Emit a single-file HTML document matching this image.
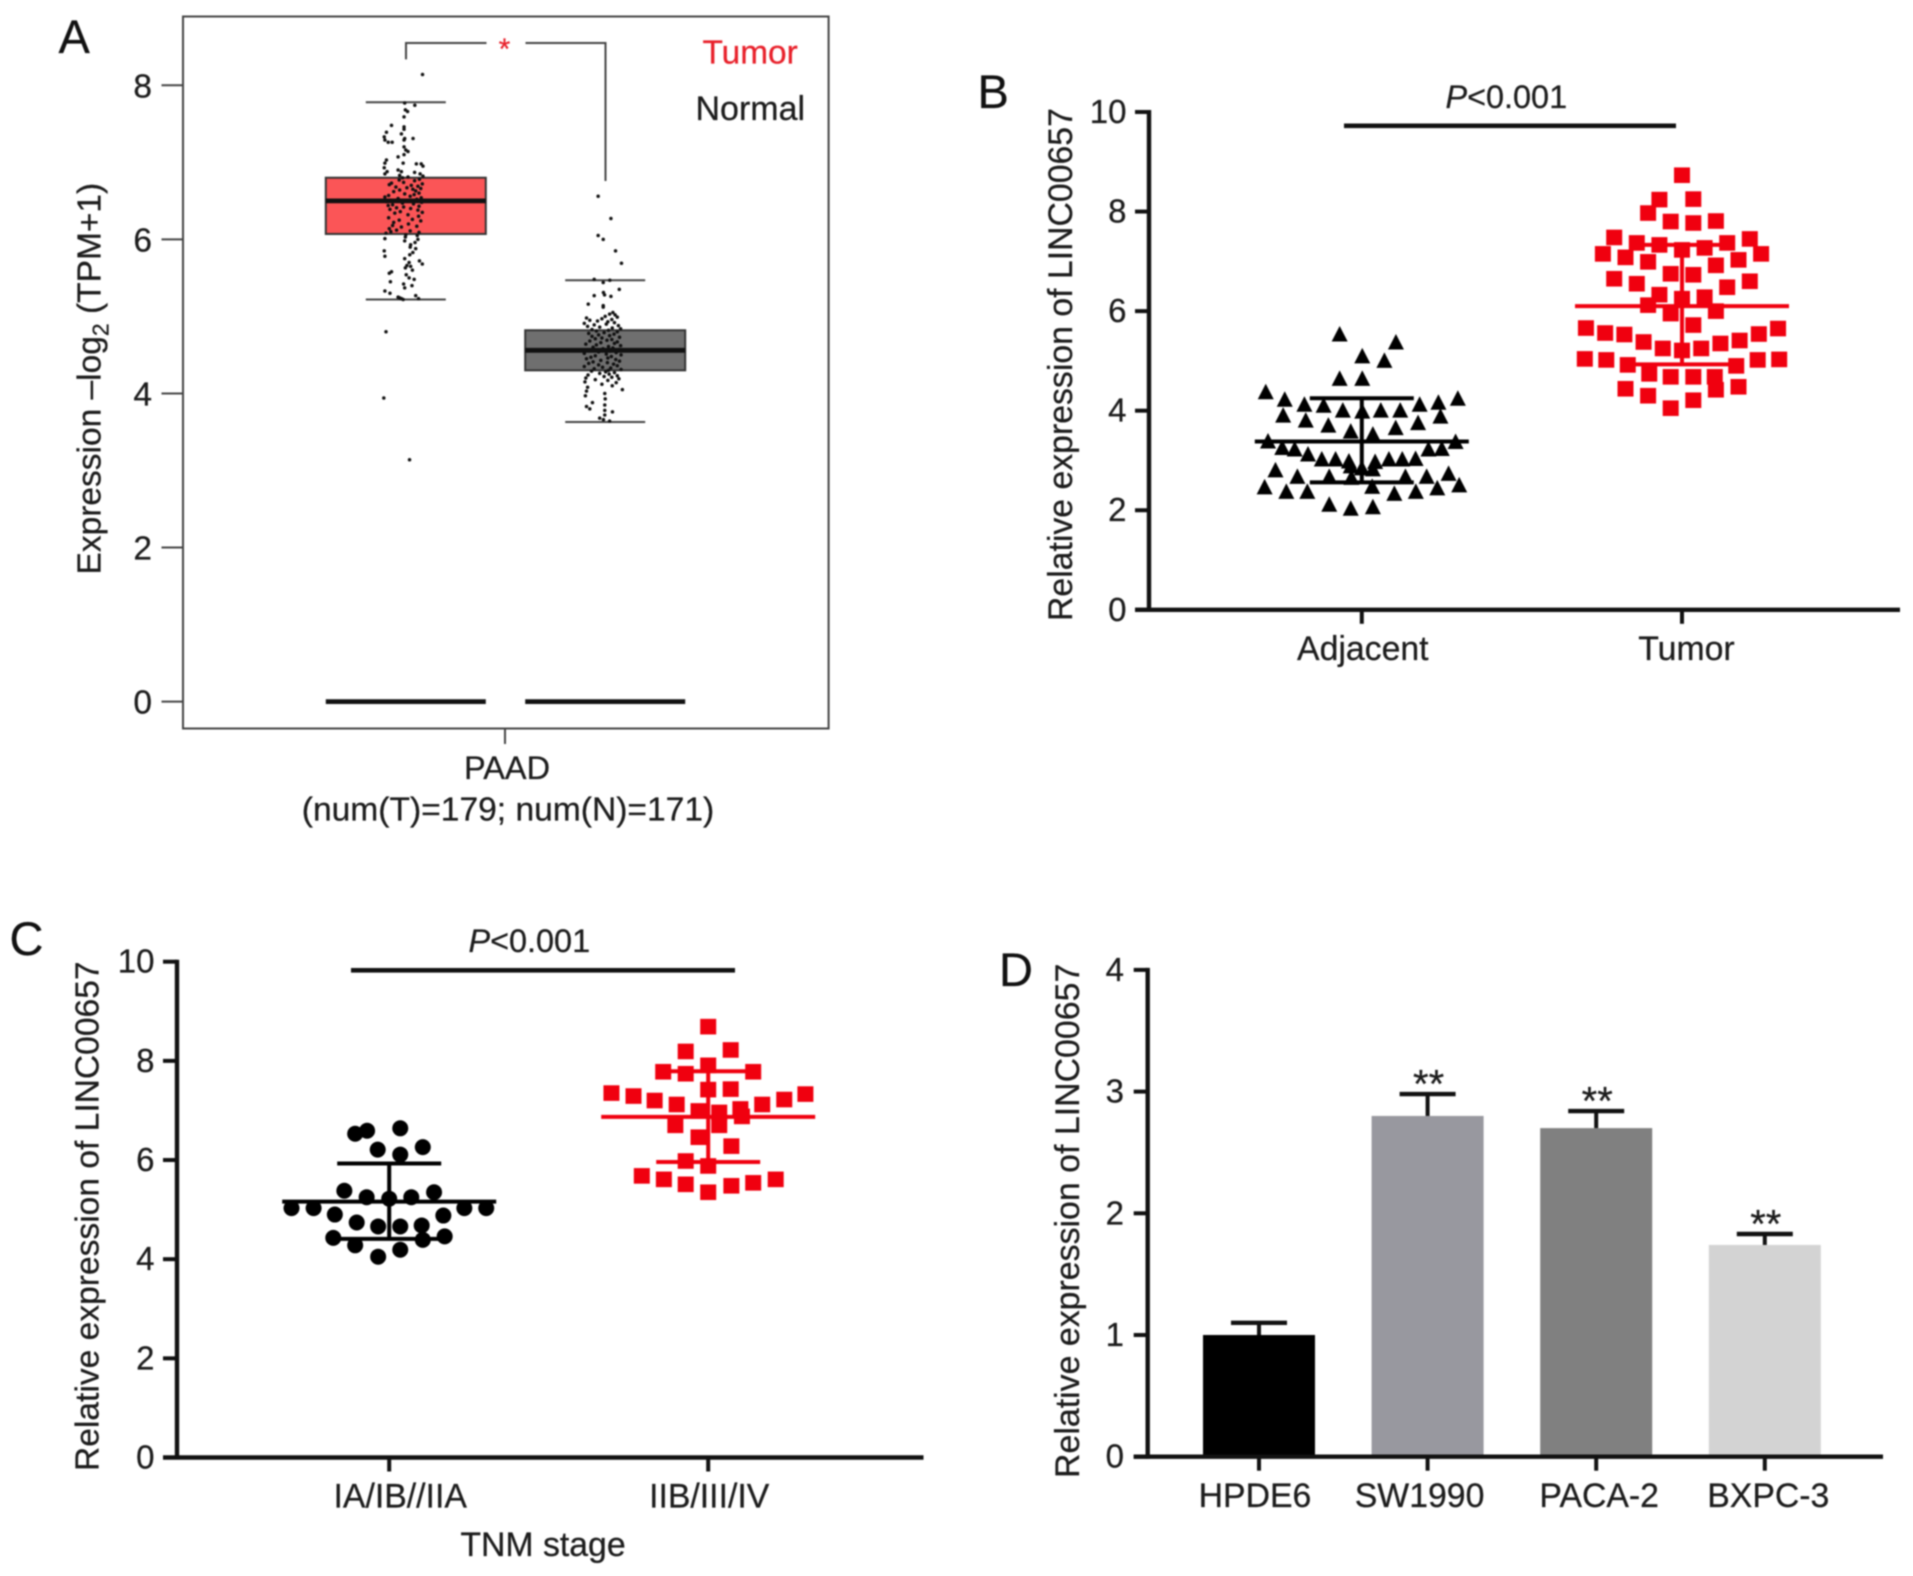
<!DOCTYPE html>
<html lang="en">
<head>
<meta charset="utf-8">
<title>LINC00657 expression panels</title>
<style>
  html,body{margin:0;padding:0;background:#fff;}
  svg{display:block;filter:blur(0.85px);}
  text{font-family:"Liberation Sans",sans-serif;fill:#1c1c1c;stroke:#1c1c1c;stroke-width:.25px;font-size:33px;}
  .letter{font-size:47px;fill:#111;}
  .ytitle{font-size:33.8px;}
</style>
</head>
<body>
<svg id="figure" width="1913" height="1576" viewBox="0 0 1913 1576" xmlns="http://www.w3.org/2000/svg">
  <rect width="1913" height="1576" fill="#fff"/>

  <g id="panel-a">
    <text class="letter" x="58.5" y="53">A</text>
    <rect x="183" y="16.5" width="645.6" height="712" fill="none" stroke="#444" stroke-width="2"/>
    <path d="M406 59.4V43H486.5M525.5 43H605.5V181" fill="none" stroke="#444" stroke-width="2"/>
    <text x="504.5" y="59" text-anchor="middle" style="font-size:30px;fill:#e8202a;stroke:#e8202a">*</text>
    <text x="702.5" y="63.5" style="fill:#e8202a;stroke:#e8202a;font-size:33.4px">Tumor</text>
    <text x="695.5" y="120" style="font-size:34px">Normal</text>
    <line x1="505" x2="505" y1="728.5" y2="744" stroke="#444" stroke-width="2"/>
    <text x="507" y="779" text-anchor="middle" style="font-size:32.5px">PAAD</text>
    <text x="508" y="820.5" text-anchor="middle" style="font-size:33.6px">(num(T)=179; num(N)=171)</text>
    <text class="ytitle" style="font-size:33.5px" transform="translate(100.5,574.5) rotate(-90)">Expression –log<tspan dy="8" style="font-size:23px">2</tspan><tspan dy="-8"> (TPM+1)</tspan></text>
  </g>

  <g id="panel-b">
    <text class="letter" x="977.5" y="108">B</text>
    <text class="ytitle" transform="translate(1072,621) rotate(-90)">Relative expression of LINC00657</text>
    <rect x="1344" y="123.5" width="332" height="4.6" fill="#111"/>
    <text x="1445.5" y="108" style="font-size:32.4px"><tspan font-style="italic">P</tspan>&lt;0.001</text>
  </g>

  <g id="panel-c">
    <text class="letter" x="9.5" y="955">C</text>
    <text class="ytitle" style="font-size:33.6px" transform="translate(98.5,1471) rotate(-90)">Relative expression of LINC00657</text>
    <rect x="351" y="968" width="384" height="4.6" fill="#111"/>
    <text x="468.5" y="952" style="font-size:32.4px"><tspan font-style="italic">P</tspan>&lt;0.001</text>
    <text x="543" y="1556" text-anchor="middle" style="font-size:33.8px">TNM stage</text>
  </g>

  <g id="panel-d">
    <text class="letter" x="999" y="986">D</text>
    <text class="ytitle" style="font-size:33.9px" transform="translate(1079,1478) rotate(-90)">Relative expression of LINC00657</text>
  </g>
</svg>

<script>
/* ---------- Panel A data ---------- */
const boxCategories = ['Tumor', 'Normal'];
const boxQ1 = [6.07, 4.30];
const boxQ3 = [6.80, 4.82];
const boxMedian = [6.50, 4.56];
const whiskerHigh = [7.78, 5.47];
const whiskerLow = [5.22, 3.63];
const flatBoxValue = [0, 0];
const panelATicks = [0, 2, 4, 6, 8];

const tumorExpr = [
8.14,7.77,7.74,7.68,7.66,7.59,7.48,7.46,7.43,7.39,
7.37,7.33,7.31,7.31,7.29,7.29,7.26,7.26,7.20,7.16,
7.14,7.10,7.07,7.03,6.99,6.99,6.98,6.98,6.95,6.93,
6.90,6.88,6.88,6.87,6.85,6.85,6.83,6.82,6.81,6.80,
6.78,6.77,6.76,6.74,6.73,6.72,6.71,6.70,6.69,6.68,
6.67,6.66,6.65,6.64,6.63,6.62,6.60,6.59,6.58,6.57,
6.56,6.55,6.54,6.53,6.52,6.51,6.50,6.49,6.48,6.47,
6.46,6.45,6.44,6.43,6.42,6.41,6.40,6.39,6.38,6.36,
6.35,6.34,6.32,6.30,6.28,6.26,6.25,6.24,6.22,6.20,
6.18,6.17,6.16,6.14,6.12,6.11,6.10,6.09,6.08,6.06,
6.05,6.03,6.01,6.00,5.98,5.96,5.93,5.90,5.88,5.85,
5.83,5.80,5.78,5.75,5.72,5.70,5.68,5.66,5.65,5.63,
5.60,5.58,5.56,5.54,5.50,5.48,5.45,5.42,5.40,5.37,
5.33,5.30,5.27,5.25,5.24,5.23,5.23,5.22,4.80,3.94,
3.14];
const tumorJitter = [
.76,-.05,.41,-.02,.08,-.08,-.65,-.08,-.08,-.88,
-.2,-.98,-.05,.33,-.95,-.08,-.8,-.62,-.08,0,
.1,-.08,-.35,-.88,-.12,-.95,.48,.7,.78,-.98,
-.35,-.85,-.2,.4,.65,-.95,-.28,.78,.1,-.15,
.62,-.3,.4,-.1,-.65,.75,-.75,.25,.55,-.45,
.05,.68,.32,-.28,.45,-.55,.6,-.05,.38,-.78,
.2,-.95,.7,-.35,.5,-.7,.1,-.88,.72,-.15,
.35,-.6,-.8,.6,-.1,-.42,.22,-.72,.55,-.25,
.75,-.5,.1,.58,-.78,.3,-.3,.68,-.55,.12,
-.6,.5,-.2,-.75,-.42,.2,-.68,.6,-.9,0,
.52,-.02,-.95,.55,-.05,.42,.22,.2,.45,-.98,
.32,.18,-.95,-.05,.62,.15,.75,.05,.22,-.02,
.3,-.65,-.75,.02,.15,.38,-.7,-.1,.28,-.05,
-.95,-.72,.45,-.35,-.28,-.2,.58,-.12,-.9,-1,
.17];
const normalExpr = [
6.56,6.27,6.05,6.00,5.85,5.69,5.48,5.47,5.44,5.35,
5.31,5.28,5.27,5.26,5.16,5.14,5.12,5.05,5.03,5.02,
5.00,4.99,4.98,4.97,4.96,4.95,4.94,4.93,4.92,4.91,
4.90,4.89,4.88,4.87,4.86,4.85,4.84,4.83,4.82,4.81,
4.80,4.79,4.78,4.77,4.76,4.75,4.74,4.73,4.72,4.71,
4.70,4.69,4.68,4.67,4.66,4.65,4.64,4.63,4.62,4.61,
4.60,4.59,4.58,4.57,4.56,4.55,4.54,4.53,4.52,4.51,
4.50,4.49,4.48,4.47,4.46,4.45,4.44,4.43,4.42,4.41,
4.40,4.39,4.38,4.37,4.36,4.35,4.34,4.33,4.32,4.31,
4.30,4.29,4.28,4.27,4.26,4.25,4.24,4.23,4.22,4.21,
4.20,4.19,4.18,4.17,4.15,4.14,4.12,4.10,4.08,4.05,
4.03,4.00,3.97,3.93,3.88,3.85,3.83,3.80,3.78,3.76,
3.72,3.68,3.66,3.64];
const normalJitter = [
-.32,.26,-.32,-.09,.47,.74,-.5,.21,-.09,.64,
-.08,-.03,-.5,.26,-.77,-.09,-.09,.35,.2,.45,
0,.55,-.85,-.15,.3,-.7,-.35,.12,.42,-.95,
.05,-.5,.6,-.8,-.25,.32,.7,-.6,.15,-.4,
.55,-.05,-.75,.4,-.3,.2,-.6,.65,-.15,-.45,
.3,.08,-.7,.55,-.2,.42,-.88,-.4,.7,.15,
-.55,.35,-.1,.6,-.75,.22,-.3,.5,-.95,.05,
.72,-.45,.28,-.65,.12,-.85,.48,-.2,.65,-.55,
.1,-.75,.38,-.3,.55,-.95,-.12,.25,-.5,.72,
.15,-.62,.02,.42,-.25,.18,-.78,.55,-.05,.3,
-.88,.62,-.45,.12,-.92,.5,-.15,.32,-.8,.78,
-.85,-.02,-.9,0,-.58,-.02,-.85,-.7,-.02,.33,
-.02,-.25,-.08,.2];

/* ---------- Panel B data ---------- */
const panelBCategories = ['Adjacent', 'Tumor'];
const panelBTicks = [0, 2, 4, 6, 8, 10];
const adjacentValues = [5.54,5.38,5.10,5.01,4.65,4.65,4.38,4.23,4.13,4.11,4.01,3.99,4.01,4.01,4.13,4.17,4.25,3.91,3.81,3.71,3.59,3.53,3.66,3.76,3.89,3.39,3.38,3.26,3.23,3.23,3.24,3.13,3.03,3.03,2.99,2.98,3.03,3.03,3.04,2.89,2.83,2.85,2.81,2.68,2.68,2.66,2.68,2.68,2.74,2.47,2.38,2.38,2.48,2.34,2.38,2.45,2.51,2.12,2.04,2.07];
const adjacentSwarm = [-.98,1.51,.02,1,-.98,.02,-4.25,-3.41,-2.54,-1.69,-.84,.02,.84,1.7,2.56,3.39,4.25,-3.48,-2.48,-1.48,-.49,.49,1.5,2.49,3.48,-4.15,4.15,-3.52,-2.97,2.95,3.54,-2.38,-1.77,-1.16,-.57,.59,1.2,1.79,2.38,-.49,.49,0,-3.82,-2.85,-1.44,-.46,1.93,2.87,3.84,-4.3,-3.34,-2.41,.46,1.44,2.39,3.34,4.31,-1.44,-.49,.49];
const tumorBValues = [8.73,8.24,8.25,7.97,7.80,7.77,7.81,7.48,7.37,7.33,7.23,7.27,7.37,7.45,7.15,7.08,6.99,6.92,7.03,7.15,6.75,6.73,6.65,6.55,6.48,6.60,6.33,6.25,6.28,6.12,5.95,6.00,5.72,5.66,5.56,5.53,5.38,5.25,5.21,5.25,5.35,5.41,5.54,5.65,5.04,5.02,4.92,4.90,5.02,5.03,4.74,4.68,4.68,4.68,4.44,4.30,4.05,4.21,4.42,4.48];
const tumorBSwarm = [0,-1,.5,-1.5,-.5,.5,1.5,-3,-2,-1,0,1,2,3,-3.5,-2.5,-1.5,1.5,2.5,3.5,-.5,.5,-3,-2,2,3,-1,0,1,-1.5,-.5,1.5,.5,-4.25,-3.4,-2.55,-1.7,-.85,0,.85,1.7,2.55,3.4,4.25,-4.3,-3.35,-2.4,2.4,3.35,4.3,-1.45,-.5,.5,1.45,-2.5,-1.5,-.5,.5,1.5,2.5];
const panelBMean = [3.38, 6.10];
const panelBSdHigh = [4.25, 7.33];
const panelBSdLow = [2.56, 4.93];

/* ---------- Panel C data ---------- */
const panelCCategories = ['IA/IB//IIA', 'IIB/III/IV'];
const panelCTicks = [0, 2, 4, 6, 8, 10];
const earlyValues = [6.53,6.59,6.64,6.21,6.26,6.11,5.38,5.35,5.25,5.22,5.25,5.03,5.03,5.03,5.03,4.90,4.88,4.74,4.66,4.66,4.68,4.43,4.46,4.39,4.28,4.19,4.05];
const earlySwarm = [-1.54,-1,.5,-.52,1.52,.5,-2.03,2.03,-1.02,0,1,-4.42,-3.42,3.4,4.39,-2.46,2.45,-1.47,-.5,.5,1.47,-2.53,2.51,1.52,-1.54,.5,-.5];
const lateValues = [8.69,8.19,8.22,7.91,7.78,7.74,7.78,7.42,7.43,7.35,7.29,7.20,7.12,6.99,6.96,7.03,7.12,7.22,7.33,6.88,6.70,6.70,6.46,6.28,5.98,5.88,5.68,5.61,5.51,5.35,5.48,5.54,5.61];
const lateSwarm = [0,-1,1,0,-2,-1,2,0,1,-4.3,-3.32,-2.38,-1.4,-.43,.49,1.43,2.4,3.38,4.32,1.5,-1.46,.49,-.43,1.03,-1,0,-2.95,-1.97,-1,0,1.03,2,3];
const panelCMean = [5.16, 6.87];
const panelCSdHigh = [5.93, 7.79];
const panelCSdLow = [4.41, 5.96];

/* ---------- Panel D data ---------- */
const cellLines = ['HPDE6', 'SW1990', 'PACA-2', 'BXPC-3'];
const cellMeans = [1.00, 2.80, 2.70, 1.74];
const cellErrorTop = [1.10, 2.98, 2.84, 1.83];
const cellColors = ['#000000', '#98989f', '#808080', '#d3d3d3'];
const cellStars = ['', '**', '**', '**'];
const panelDTicks = [0, 1, 2, 3, 4];

/* ---------- Axis functions ---------- */
const yA = v => 701.6 - 77.04 * v;
const xA = i => 405.8 + 199.4 * i;
const yB = v => 609.8 - 49.78 * v;
const xB = i => 1361.8 + 320.2 * i;
const yC = v => 1457.5 - 49.58 * v;
const xC = i => 389.2 + 319 * i;
const yD = v => 1456.7 - 121.7 * v;
const xD = i => 1259 + 168.6 * i;

const NS = 'http://www.w3.org/2000/svg';
function mk(tag, parentId, props) {
  const el = document.createElementNS(NS, tag);
  for (const k in props) el.setAttribute(k, props[k]);
  document.getElementById(parentId).appendChild(el);
  return el;
}
function line(parentId, x1, y1, x2, y2, stroke, w) {
  return mk('line', parentId, { x1, y1, x2, y2, stroke, 'stroke-width': w });
}
function label(parentId, x, y, str, anchor, size) {
  const t = mk('text', parentId, { x, y, 'text-anchor': anchor });
  t.style.fontSize = size + 'px';
  t.textContent = str;
  return t;
}

/* ---------- Panel A ---------- */
panelATicks.forEach(v => {
  const tick = line('panel-a', 161.5, yA(v), 183, yA(v), '#444', 2);
  
  
  const t = label('panel-a', 152, yA(v) + 12, String(v), 'end', 33.5);
  
  
});
boxCategories.forEach((name, i) => {
  const cx = xA(i), hw = 80, wh = 40;
  const wt = line('panel-a', cx - wh, yA(whiskerHigh[i]), cx + wh, yA(whiskerHigh[i]), '#444', 2);
  
  
  const wb = line('panel-a', cx - wh, yA(whiskerLow[i]), cx + wh, yA(whiskerLow[i]), '#444', 2);
  
  
  const box = mk('rect', 'panel-a', { x: cx - hw, y: yA(boxQ3[i]), width: hw * 2, height: yA(boxQ1[i]) - yA(boxQ3[i]), fill: i === 0 ? '#fb5557' : '#6f6f6f', stroke: '#333', 'stroke-width': 2 });
  
  
  const med = line('panel-a', cx - hw, yA(boxMedian[i]), cx + hw, yA(boxMedian[i]), '#111', 4.8);
  
  
  const flat = line('panel-a', cx - hw, yA(flatBoxValue[i]), cx + hw, yA(flatBoxValue[i]), '#111', 4.8);
  
  
});
function jitterDots(values, jitter, cat) {
  values.forEach((v, k) => {
    const dot = mk('circle', 'panel-a', { cx: xA(cat) + (jitter[k] || 0) * 22, cy: yA(v), r: 1.75, fill: '#111' });
    
    
  });
}
jitterDots(tumorExpr, tumorJitter, 0);
jitterDots(normalExpr, normalJitter, 1);

/* ---------- Shared dot-plot pieces ---------- */
function axes(id, xAxis, yAxis, axisX, axisY, xEnd, ticks, tickRight) {
  const ya = line(id, axisX, yAxis(ticks[ticks.length - 1]) - 2, axisX, axisY + 2, '#111', 4.4);
  
  
  const xa = line(id, axisX - 14, axisY, xEnd, axisY, '#111', 4.4);
  
  
  ticks.forEach(v => {
    const tk = line(id, axisX - 14, yAxis(v), axisX, yAxis(v), '#111', 4);
    
    
    const t = label(id, tickRight, yAxis(v) + 11, String(v), 'end', 33);
    
    
  });
}
function errorBars(id, cx, yAxis, mean, hi, lo, color) {
  const v = line(id, cx, yAxis(hi), cx, yAxis(lo), color, 4);
  
  
  const m = line(id, cx - 107, yAxis(mean), cx + 107, yAxis(mean), color, 4);
  
  
  const h = line(id, cx - 52, yAxis(hi), cx + 52, yAxis(hi), color, 4);
  
  
  const l = line(id, cx - 52, yAxis(lo), cx + 52, yAxis(lo), color, 4);
  
  
}
function triangles(id, values, swarm, cx, yAxis, unit) {
  values.forEach((v, k) => {
    const x = cx + swarm[k] * unit, y = yAxis(v);
    const tri = mk('polygon', id, { points: `${x - 8},${y + 7.5} ${x + 8},${y + 7.5} ${x},${y - 8}`, fill: '#000' });
    
    
  });
}
function squares(id, values, swarm, cx, yAxis, unit) {
  values.forEach((v, k) => {
    const sq = mk('rect', id, { x: cx + swarm[k] * unit - 8, y: yAxis(v) - 7.8, width: 16, height: 15.6, fill: '#f0000f' });
    
    
  });
}
function circles(id, values, swarm, cx, yAxis, unit) {
  values.forEach((v, k) => {
    const c = mk('circle', id, { cx: cx + swarm[k] * unit, cy: yAxis(v), r: 8, fill: '#000' });
    
    
  });
}

/* ---------- Panel B ---------- */
axes('panel-b', xB, yB, 1149, yB(0), 1900, panelBTicks, 1126.5);
panelBCategories.forEach((name, i) => {
  const tk = line('panel-b', xB(i), yB(0), xB(i), yB(0) + 14, '#111', 4);
  
  
  const t = label('panel-b', xB(i) + (i ? 4.5 : 1), 660, name, 'middle', 33.8);
  
  
});
triangles('panel-b', adjacentValues, adjacentSwarm, xB(0), yB, 22.6);
squares('panel-b', tumorBValues, tumorBSwarm, xB(1), yB, 22.6);
errorBars('panel-b', xB(0), yB, panelBMean[0], panelBSdHigh[0], panelBSdLow[0], '#000');
errorBars('panel-b', xB(1), yB, panelBMean[1], panelBSdHigh[1], panelBSdLow[1], '#f0000f');

/* ---------- Panel C ---------- */
axes('panel-c', xC, yC, 177, yC(0), 923.5, panelCTicks, 154.5);
panelCCategories.forEach((name, i) => {
  const tk = line('panel-c', xC(i), yC(0), xC(i), yC(0) + 14, '#111', 4);
  
  
  const t = label('panel-c', xC(i) + (i ? 1 : 11), 1507.6, name, 'middle', 33.8);
  
  
});
circles('panel-c', earlyValues, earlySwarm, xC(0), yC, 22.1);
squares('panel-c', lateValues, lateSwarm, xC(1), yC, 22.5);
errorBars('panel-c', xC(0), yC, panelCMean[0], panelCSdHigh[0], panelCSdLow[0], '#000');
errorBars('panel-c', xC(1), yC, panelCMean[1], panelCSdHigh[1], panelCSdLow[1], '#f0000f');

/* ---------- Panel D ---------- */
cellLines.forEach((name, i) => {
  const bar = mk('rect', 'panel-d', { x: xD(i) - 56, y: yD(cellMeans[i]), width: 112, height: yD(0) - yD(cellMeans[i]), fill: cellColors[i] });
  
  
  const stem = line('panel-d', xD(i), yD(cellErrorTop[i]), xD(i), yD(cellMeans[i]), '#111', 4);
  
  
  const cap = line('panel-d', xD(i) - 28, yD(cellErrorTop[i]), xD(i) + 28, yD(cellErrorTop[i]), '#111', 4.4);
  
  
  if (cellStars[i]) {
    const s = label('panel-d', xD(i) + 1, yD(cellErrorTop[i]) + 3.5, cellStars[i], 'middle', 40);
    
    
  }
  const tk = line('panel-d', xD(i), yD(0), xD(i), yD(0) + 14, '#111', 4);
  
  
  const t = label('panel-d', xD(i) + [-4, -8, 3, 3.5][i], 1507, name, 'middle', 33.8);
  
  
});
axes('panel-d', xD, yD, 1147.7, yD(0), 1883, panelDTicks, 1124);
</script>
</body>
</html>
